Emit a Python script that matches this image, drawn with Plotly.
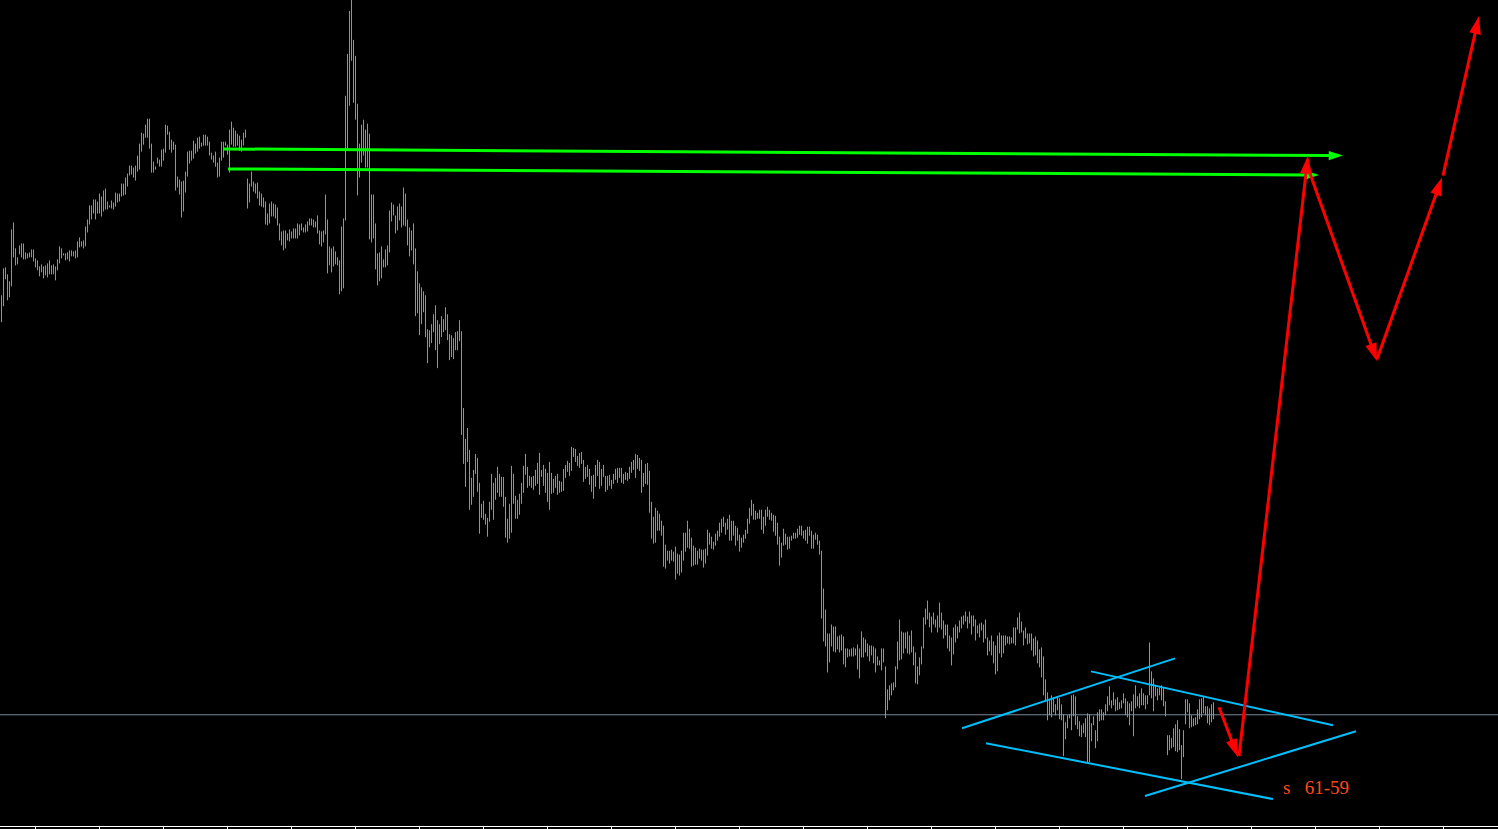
import plotly.graph_objects as go

# ---- price bars (high / low per bar, in points) ----
bar_high = [
    533,560,561,554,547,599,606,580,571,583,
    585,585,576,575,576,579,579,570,568,562,
    564,562,563,565,568,563,564,562,569,582,
    580,575,575,576,578,578,577,578,587,591,
    587,588,602,609,623,623,629,629,627,635,
    632,638,640,627,623,628,626,636,635,635,
    645,645,651,655,663,663,661,663,673,685,
    696,695,704,710,710,685,667,662,671,669,
    679,680,704,703,697,689,687,684,652,649,
    647,648,657,677,678,678,688,685,691,692,
    686,694,694,692,687,676,673,677,666,671,
    687,687,687,684,699,707,701,698,695,693,
    689,696,699,650,645,657,647,645,646,637,
    635,631,627,615,625,627,625,624,621,605,
    597,598,598,595,599,597,600,600,605,604,
    605,601,604,607,610,610,609,607,613,598,
    597,598,634,609,582,580,582,577,571,568,
    602,610,733,775,818,829,789,773,725,685,
    704,709,699,705,695,634,634,605,575,576,
    582,569,579,583,618,626,624,613,622,625,
    622,641,635,609,601,598,605,580,557,545,
    541,537,533,499,498,504,514,523,508,504,
    512,509,521,514,494,493,490,496,497,508,
    497,420,389,400,378,350,358,374,370,345,
    324,327,314,310,326,354,345,350,361,354,
    351,351,331,309,324,362,354,332,328,334,
    345,362,374,361,352,351,352,358,365,375,
    358,363,359,355,366,355,349,352,354,347,
    346,359,363,367,365,381,380,379,372,375,
    376,368,361,363,359,352,353,363,368,366,
    359,363,352,352,353,348,354,359,360,360,
    360,354,356,355,361,366,368,374,373,370,
    368,355,364,365,357,326,311,320,317,314,
    307,302,283,277,277,278,276,281,274,273,
    277,295,295,307,299,290,282,280,277,279,
    278,278,279,298,295,291,286,294,297,305,
    309,311,305,309,313,307,307,302,300,293,
    290,293,298,309,320,328,324,317,315,318,
    318,311,318,321,318,315,313,312,305,291,
    285,299,294,291,291,292,295,295,299,302,
    302,297,298,301,301,297,293,295,293,287,
    277,239,218,194,194,203,201,201,191,192,
    193,191,179,179,178,179,180,179,183,179,
    196,190,188,184,182,182,181,179,171,167,
    179,179,161,138,142,144,145,161,186,208,
    196,195,195,196,192,197,181,175,161,170,
    181,210,219,227,215,211,215,208,212,225,
    215,207,203,203,192,190,200,203,201,207,
    211,212,216,211,216,212,212,208,202,204,
    205,203,208,190,187,192,186,182,192,195,
    192,192,192,191,191,190,200,200,210,215,
    206,197,200,194,194,194,189,191,187,178,
    180,171,148,135,127,132,130,123,131,129,
    123,113,105,112,113,132,133,131,111,106,
    102,104,109,114,113,104,111,97,115,118,
    118,115,123,131,141,127,135,128,130,125,
    127,134,129,126,124,126,133,142,131,134,
    139,134,132,132,185,156,149,142,139,140,
    142,140,126,92,92,89,99,103,107,98,
    82,97,128,128,124,112,109,110,118,128,
    129,131,121,121,119,123,125,
]

bar_low = [
    506,522,549,528,531,542,571,563,564,574,
    571,569,569,570,571,571,567,561,558,552,
    556,550,553,551,554,554,554,548,558,565,
    570,573,568,569,567,572,572,570,571,581,
    582,580,582,596,604,609,615,609,615,615,
    612,617,619,619,621,620,619,622,626,627,
    632,633,634,642,653,654,651,648,657,659,
    677,684,691,691,680,656,656,659,665,662,
    662,668,676,694,679,676,679,638,641,634,
    611,617,636,652,665,668,670,675,677,680,
    682,683,683,683,673,669,666,662,651,652,
    668,671,683,674,656,684,682,682,683,678,
    677,683,691,620,626,642,637,635,630,623,
    622,621,604,603,605,612,612,610,603,588,
    583,578,580,588,587,590,590,590,590,593,
    598,596,596,597,603,603,601,601,595,584,
    582,586,594,555,563,556,562,564,563,534,
    537,540,608,680,723,768,726,709,633,651,
    666,673,661,661,589,586,590,559,543,547,
    550,561,561,563,576,607,613,595,598,608,
    601,603,602,583,572,578,564,512,515,493,
    504,516,491,465,481,485,496,478,460,484,
    491,496,498,488,468,471,469,478,478,487,
    393,364,341,366,318,323,331,354,336,294,
    310,308,303,291,306,318,308,328,335,331,
    331,321,290,285,289,295,324,309,309,313,
    324,335,353,340,342,340,338,342,344,333,
    351,342,335,326,318,334,335,340,333,335,
    336,337,350,356,352,357,371,366,362,360,
    364,346,349,351,343,336,329,341,352,339,
    342,351,336,338,342,339,344,348,345,350,
    345,344,348,347,349,355,358,350,359,357,
    335,341,344,343,315,289,284,285,297,297,
    292,261,259,267,264,267,266,248,254,252,
    255,267,276,280,279,261,262,263,263,269,
    267,260,264,272,283,279,278,282,287,291,
    295,301,293,298,287,287,292,282,287,276,
    280,285,289,294,304,312,308,308,309,309,
    298,294,302,311,308,307,296,292,283,262,
    270,282,283,278,279,287,289,289,290,293,
    292,289,287,284,292,279,279,288,283,273,
    209,186,181,155,165,181,176,175,178,175,
    177,163,160,170,171,171,171,172,158,149,
    170,170,175,171,166,172,164,155,162,162,
    157,165,109,117,127,132,137,140,158,167,
    168,174,179,174,173,175,162,144,143,152,
    163,179,203,208,200,195,203,200,195,200,
    198,189,192,179,176,162,173,185,189,195,
    199,203,206,199,204,193,201,187,194,190,
    197,185,189,172,176,172,164,153,156,174,
    170,174,182,184,183,184,184,182,198,194,
    195,182,189,183,184,177,171,172,164,160,
    150,132,127,107,112,110,115,112,117,108,
    107,71,88,99,109,97,111,102,98,91,
    90,94,90,65,65,86,102,79,86,106,
    107,107,112,116,122,119,122,116,117,118,
    119,124,112,110,102,116,91,119,121,119,
    122,122,118,123,132,129,116,131,127,132,
    127,121,111,72,77,79,80,76,75,77,
    48,70,103,115,99,100,101,102,103,108,
    110,114,112,104,102,105,108,
]

# ---- annotations drawn on the chart (bar index, price) ----
support_level = 112.5

green_arrow_bars = [[111.25, 670.75], [113.25, 658.75]]
green_arrow_prices = [[679.7, 673.0], [659.7, 653.5]]

red_path_bars = [[608.75, 618.25], [618.75, 653.25], [654.25, 687.75],
                 [687.75, 720.25], [720.75, 738.75]]
red_path_prices = [[120, 70], [71, 673], [655, 467], [469, 651], [653, 813]]

channel_bars = [[480.25, 586.75], [544.75, 665.75], [492.25, 635.75], [571.75, 677.25]]
channel_prices = [[99, 169], [156, 102], [84, 28], [31, 96]]

label_text = "s\u00a0\u00a0\u00a061-59"
label_bar = 639.75
label_price = 40

# ---- build figure ----
bx, by = [], []
for i, (h, l) in enumerate(zip(bar_high, bar_low)):
    bx += [i, i, None]
    by += [h, l, None]

fig = go.Figure()
fig.add_trace(go.Scatter(x=bx, y=by, mode="lines",
                         line=dict(color="#26e026", width=1),
                         hoverinfo="skip", showlegend=False))

cx, cy = [], []
for xs, ys in zip(channel_bars, channel_prices):
    cx += xs + [None]
    cy += ys + [None]
fig.add_trace(go.Scatter(x=cx, y=cy, mode="lines",
                         line=dict(color="#00bfff", width=2),
                         hoverinfo="skip", showlegend=False))

for xs, ys in zip(green_arrow_bars, green_arrow_prices):
    fig.add_trace(go.Scatter(x=xs, y=ys, mode="lines+markers",
                             line=dict(color="#00ff00", width=3),
                             marker=dict(symbol="arrow", angleref="previous",
                                         size=15, color="#00ff00",
                                         line=dict(width=0)),
                             hoverinfo="skip", showlegend=False))

for xs, ys in zip(red_path_bars, red_path_prices):
    fig.add_trace(go.Scatter(x=xs, y=ys, mode="lines+markers",
                             line=dict(color="#ff0000", width=3),
                             marker=dict(symbol="arrow", angleref="previous",
                                         size=19, color="#ff0000",
                                         line=dict(width=0)),
                             hoverinfo="skip", showlegend=False))

fig.add_shape(type="line", xref="paper", x0=0, x1=1, yref="y",
              y0=support_level, y1=support_level,
              line=dict(color="#778899", width=1), layer="below")

fig.add_annotation(x=label_bar, y=label_price, text=label_text, showarrow=False,
                   xanchor="left", yanchor="middle",
                   font=dict(family="Liberation Serif", size=19, color="#ff4a1a"))

fig.update_layout(
    width=1498, height=829,
    margin=dict(l=0, r=0, t=0, b=1, pad=0),
    paper_bgcolor="#000000", plot_bgcolor="#000000",
    showlegend=False,
    xaxis=dict(range=[-0.75, 748.25], showgrid=False, zeroline=False,
               showline=True, linecolor="#ffffff", linewidth=1,
               ticks="outside", ticklen=3, tickcolor="#ffffff", tickwidth=1,
               tickmode="linear", tick0=17, dtick=32,
               showticklabels=False, fixedrange=True),
    yaxis=dict(range=[1, 829], showgrid=False, zeroline=False,
               showline=False, showticklabels=False, ticks="", fixedrange=True),
)

fig.write_html("out.html", config={"displayModeBar": False},
               post_script="document.body.style.margin='0';document.body.style.overflow='hidden';")
